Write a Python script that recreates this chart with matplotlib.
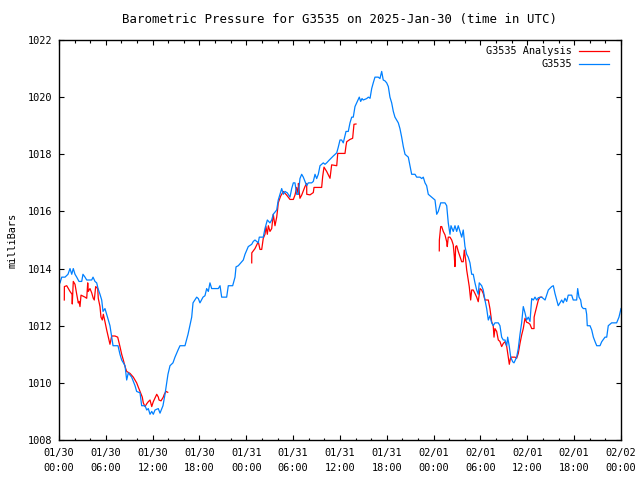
import numpy as np
import pandas as pd
import matplotlib
matplotlib.use('Agg')
import matplotlib.pyplot as plt
import matplotlib.dates as mdates

# hours after 2025-01-30 00:00 UTC, pressure in mb
obs_hours = [0.13, 0.35, 0.77, 1.15, 1.41, 1.63, 1.83, 2.05, 2.27, 2.56, 2.91, 3.07, 3.33, 3.55,
             4.19, 4.36, 4.61, 4.83, 5.0, 5.25, 5.47, 5.64, 5.89, 6.11, 6.32, 6.53, 6.75, 6.92,
             7.56, 7.81, 8.03, 8.46, 8.67, 8.88, 9.31, 9.74, 9.95, 10.38, 10.59, 11.02, 11.24,
             11.44, 11.66, 11.88, 12.08, 12.3, 12.72, 12.94, 13.32, 13.58, 13.8, 13.96, 14.22,
             14.6, 14.86, 15.25, 15.5, 16.14, 16.53, 17.0, 17.17, 17.64, 17.85, 18.06, 18.45,
             18.7, 18.92, 19.13, 19.34, 19.56, 20.41, 20.63, 20.84, 21.48, 21.69, 22.25, 22.55,
             22.68, 22.97, 23.61, 23.83, 24.25, 24.69, 24.89, 25.11, 25.33, 25.53, 25.66, 26.17,
             26.39, 26.69, 27.03, 27.25, 27.45, 27.89, 28.09, 28.53, 28.74, 28.95, 29.25, 29.59,
             29.81, 30.02, 30.23, 30.45, 30.66, 30.87, 31.09, 31.3, 31.73, 31.94, 32.37, 32.58,
             32.8, 33.01, 33.22, 33.44, 33.86, 34.08, 34.29, 34.63, 35.14, 35.58, 35.78, 36.0,
             36.21, 36.42, 36.77, 37.06, 37.28, 37.5, 37.7, 37.92, 38.14, 38.47, 38.65, 38.82,
             38.98, 39.42, 39.63, 39.85, 40.06, 40.26, 40.48, 40.9, 41.12, 41.34, 41.54, 41.76,
             41.98, 42.19, 42.4, 42.62, 42.83, 43.04, 43.47, 43.68, 43.9, 44.11, 44.33, 44.75,
             44.97, 45.18, 45.61, 45.82, 46.25, 46.47, 46.67, 46.89, 47.1, 47.31, 47.53, 48.17,
             48.39, 48.59, 48.9, 49.45, 49.67, 49.87, 50.09, 50.22, 50.51, 50.73, 50.95, 51.15,
             51.59, 51.79, 52.01, 52.23, 52.43, 52.65, 52.87, 53.07, 53.29, 53.51, 53.71, 53.84,
             54.15, 54.35, 54.57, 54.79, 55.0, 55.21, 55.43, 55.63, 55.85, 56.28, 56.49, 56.71,
             56.92, 57.14, 57.36, 57.48, 57.69, 57.87, 58.12, 58.29, 58.63, 58.84, 59.06, 59.27,
             59.48, 59.7, 59.91, 60.12, 60.34, 60.56, 60.77, 60.98, 61.2, 61.41, 61.84, 62.05,
             62.27, 62.48, 62.69, 63.12, 63.33, 63.54, 63.76, 63.96, 64.18, 64.4, 64.6, 64.82,
             65.04, 65.24, 65.68, 65.88, 66.32, 66.45, 66.62, 66.83, 66.96, 67.17, 67.48, 67.6,
             67.68, 68.03, 68.25, 68.46, 68.68, 68.89, 69.31, 69.53, 69.95, 70.17, 70.37, 70.8,
             71.44, 71.74, 72.0]
obs_mb = [1013.5, 1013.7, 1013.7, 1013.8, 1014.0, 1013.8, 1014.0, 1013.8, 1013.7, 1013.55, 1013.55,
          1013.8, 1013.7, 1013.6, 1013.6, 1013.7, 1013.55, 1013.5, 1013.3, 1013.1, 1012.9, 1012.5,
          1012.6, 1012.4, 1012.2, 1012.0, 1011.6, 1011.3, 1011.3, 1011.0, 1010.8, 1010.6, 1010.1,
          1010.35, 1010.2, 1009.9, 1009.7, 1009.65, 1009.2, 1009.2, 1009.05, 1009.1, 1008.9,
          1009.0, 1008.9, 1009.05, 1009.1, 1008.94, 1009.2, 1009.6, 1010.0, 1010.3, 1010.6,
          1010.7, 1010.9, 1011.15, 1011.3, 1011.3, 1011.7, 1012.3, 1012.8, 1013.0, 1012.95,
          1012.8, 1013.0, 1013.05, 1013.3, 1013.2, 1013.5, 1013.3, 1013.3, 1013.4, 1013.0,
          1013.0, 1013.4, 1013.4, 1013.7, 1014.06, 1014.1, 1014.3, 1014.5, 1014.77, 1014.85,
          1014.95, 1015.0, 1014.95, 1014.9, 1015.1, 1015.1, 1015.4, 1015.7, 1015.6, 1015.7,
          1015.9, 1016.05, 1016.4, 1016.8, 1016.6, 1016.7, 1016.65, 1016.5, 1016.8, 1017.0,
          1017.0, 1016.6, 1016.6, 1017.15, 1017.3, 1017.2, 1016.9, 1017.0, 1017.0, 1017.05,
          1017.3, 1017.15, 1017.3, 1017.6, 1017.7, 1017.65, 1017.7, 1017.8, 1017.94, 1018.05,
          1018.25, 1018.5, 1018.5, 1018.4, 1018.8, 1018.8, 1019.1, 1019.3, 1019.3, 1019.67,
          1019.8, 1020.0, 1019.85, 1019.95, 1019.9, 1019.95, 1020.0, 1019.96, 1020.3, 1020.5,
          1020.7, 1020.7, 1020.65, 1020.9, 1020.6, 1020.57, 1020.5, 1020.37, 1020.0, 1019.8,
          1019.5, 1019.3, 1019.1, 1018.9, 1018.6, 1018.27, 1018.0, 1017.9, 1017.6, 1017.3,
          1017.3, 1017.2, 1017.2, 1017.15, 1017.2, 1017.0, 1016.9, 1016.6, 1016.55, 1016.4,
          1015.9, 1016.0, 1016.3, 1016.3, 1016.2, 1015.6, 1015.2, 1015.5, 1015.3, 1015.5,
          1015.3, 1015.5, 1015.1, 1015.35, 1014.77, 1014.5, 1014.4, 1014.2, 1013.8, 1013.8,
          1013.5, 1013.25, 1013.1, 1013.5, 1013.4, 1013.25, 1012.9, 1012.6, 1012.2, 1012.35,
          1012.1, 1012.0, 1012.1, 1012.1, 1012.0, 1011.6, 1011.5, 1011.5, 1011.3, 1011.6,
          1011.27, 1010.9, 1010.74, 1010.7, 1010.9, 1011.2, 1011.7, 1012.1, 1012.67, 1012.45,
          1012.2, 1012.3, 1012.15, 1012.95, 1012.9, 1013.0, 1012.9, 1012.98, 1013.0, 1012.95,
          1012.9, 1013.07, 1013.25, 1013.37, 1013.4, 1013.13, 1012.9, 1012.7, 1012.8, 1012.9,
          1012.8, 1012.96, 1012.85, 1013.07, 1013.07, 1012.9, 1012.9, 1013.3, 1013.0, 1012.9,
          1012.67, 1012.6, 1012.6, 1012.4, 1012.0, 1012.0, 1011.85, 1011.6, 1011.44, 1011.3,
          1011.3, 1011.44, 1011.6, 1011.6, 1012.0, 1012.1, 1012.1, 1012.3, 1012.6]

# analysis runs (three separate pieces)
ana1_hours = [0.68, 0.69, 0.99, 1.41, 1.67, 1.7, 1.83, 2.05, 2.27, 2.47, 2.56, 2.69, 2.82, 3.33,
              3.55, 3.68, 3.75, 3.97, 4.19, 4.39, 4.52, 4.7, 4.96, 5.03, 5.25, 5.38, 5.55, 5.68,
              5.89, 6.11, 6.32, 6.53, 6.75, 7.17, 7.52, 7.81, 8.03, 8.24, 8.46, 8.67, 9.1, 9.52,
              9.95, 10.16, 10.38, 10.67, 10.8, 11.02, 11.24, 11.44, 11.66, 11.88, 12.08, 12.52,
              12.73, 12.81, 13.07, 13.36, 13.49, 13.71, 13.93]
ana1_mb = [1012.9, 1013.37, 1013.4, 1013.2, 1013.1, 1012.76, 1013.55, 1013.45, 1013.1, 1012.8,
           1012.85, 1012.67, 1013.07, 1013.0, 1012.96, 1013.5, 1013.2, 1013.3, 1013.15, 1012.96,
           1012.9, 1013.37, 1013.3, 1012.96, 1012.67, 1012.3, 1012.2, 1012.4, 1012.14, 1011.85,
           1011.6, 1011.35, 1011.64, 1011.64, 1011.6, 1011.27, 1011.0, 1010.8, 1010.57, 1010.4,
           1010.33, 1010.2, 1010.0, 1009.85, 1009.7, 1009.5, 1009.3, 1009.17, 1009.27, 1009.34,
           1009.4, 1009.17, 1009.34, 1009.6, 1009.5, 1009.4, 1009.37, 1009.5, 1009.6, 1009.7,
           1009.67]

ana2_hours = [24.69, 24.7, 25.11, 25.53, 25.75, 25.97, 26.17, 26.39, 26.51, 26.69, 26.82, 27.03,
              27.25, 27.45, 27.67, 27.89, 28.02, 28.09, 28.4, 28.74, 29.17, 29.59, 30.02, 30.23,
              30.45, 30.66, 30.67, 30.87, 31.09, 31.51, 31.73, 31.74, 32.16, 32.58, 32.67, 33.65,
              33.78, 33.95, 34.29, 34.72, 34.93, 35.58, 35.71, 36.64, 36.77, 36.86, 37.28, 37.62,
              37.79, 38.05]
ana2_mb = [1014.2, 1014.55, 1014.7, 1014.94, 1014.67, 1014.67, 1015.06, 1015.2, 1015.47, 1015.2,
           1015.5, 1015.3, 1015.4, 1015.9, 1015.5, 1015.8, 1016.1, 1016.3, 1016.54, 1016.7,
           1016.57, 1016.42, 1016.42, 1016.57, 1016.84, 1016.6, 1016.98, 1016.46, 1016.57,
           1016.87, 1016.98, 1016.6, 1016.58, 1016.66, 1016.84, 1016.84, 1017.22, 1017.55,
           1017.4, 1017.16, 1017.63, 1017.6, 1018.03, 1018.03, 1018.3, 1018.44, 1018.52,
           1018.56, 1019.05, 1019.06]

ana3_hours = [48.72, 48.73, 48.9, 49.03, 49.23, 49.45, 49.67, 49.74, 49.87, 50.09, 50.31, 50.51,
              50.64, 50.73, 50.82, 50.95, 51.15, 51.37, 51.59, 51.79, 51.92, 52.1, 52.23, 52.43,
              52.56, 52.74, 52.87, 53.07, 53.29, 53.51, 53.71, 53.94, 54.15, 54.35, 54.57, 55.0,
              55.21, 55.43, 55.63, 55.73, 55.85, 56.07, 56.28, 56.49, 56.71, 56.92, 57.14, 57.36,
              57.56, 57.69, 57.87, 58.42, 58.63, 58.84, 59.06, 59.27, 59.48, 59.7, 59.91, 60.12,
              60.34, 60.56, 60.86, 60.87, 60.98, 61.2, 61.41, 61.62, 61.84]
ana3_mb = [1014.62, 1015.0, 1015.47, 1015.47, 1015.3, 1015.18, 1014.94, 1014.77, 1015.1, 1015.1,
           1015.0, 1014.83, 1014.44, 1014.07, 1014.77, 1014.8, 1014.6, 1014.42, 1014.24, 1014.24,
           1014.65, 1014.3, 1013.95, 1013.6, 1013.37, 1012.9, 1013.25, 1013.25, 1013.13, 1013.0,
           1012.84, 1013.3, 1013.25, 1013.13, 1012.9, 1012.9, 1012.6, 1012.14, 1012.0, 1011.6,
           1011.9, 1011.8, 1011.5, 1011.45, 1011.27, 1011.38, 1011.44, 1011.27, 1010.9, 1010.65,
           1010.9, 1010.9, 1010.86, 1011.03, 1011.38, 1011.67, 1011.9, 1012.26, 1012.12, 1012.1,
           1012.05, 1011.9, 1011.9, 1012.3, 1012.43, 1012.67, 1012.9, 1013.0, 1013.0]

start = pd.Timestamp('2025-01-30 00:00')


def to_time(hours):
    return start + pd.to_timedelta(np.array(hours), unit='h')


plt.rcParams['font.family'] = 'DejaVu Sans Mono'
plt.rcParams['font.size'] = 7.4

fig = plt.figure(figsize=(6.4, 4.8), dpi=100)
ax = fig.add_axes([59 / 640, 40 / 480, 562 / 640, 400 / 480])

red = '#ff0000'
blue = '#0080ff'
ax.plot(to_time(ana1_hours), ana1_mb, color=red, lw=0.9, label='G3535 Analysis')
ax.plot(to_time(ana2_hours), ana2_mb, color=red, lw=0.9)
ax.plot(to_time(ana3_hours), ana3_mb, color=red, lw=0.9)
ax.plot(to_time(obs_hours), obs_mb, color=blue, lw=0.9, label='G3535')

ax.set_xlim(start, start + pd.Timedelta(hours=72))
ax.set_ylim(1008, 1022)
ax.set_yticks(np.arange(1008, 1023, 2))
ax.xaxis.set_major_locator(mdates.HourLocator(byhour=range(0, 24, 6)))
ax.xaxis.set_minor_locator(mdates.HourLocator(byhour=range(0, 24, 2)))
ax.xaxis.set_major_formatter(mdates.DateFormatter('%m/%d\n%H:%M'))
for lbl in ax.get_xticklabels():
    lbl.set_linespacing(1.6)

ax.tick_params(which='both', direction='in', top=True, right=True, color='black')
ax.tick_params(which='major', length=3.6, width=0.8, pad=5)
ax.tick_params(axis='x', which='major', pad=6)
ax.tick_params(which='minor', length=1.8, width=0.8)
for s in ax.spines.values():
    s.set_linewidth(1)
    s.set_color('black')

ax.set_title('Barometric Pressure for G3535 on 2025-Jan-30 (time in UTC)', pad=12)
ax.set_ylabel('milliBars', labelpad=7)

ax.legend(loc='upper right', bbox_to_anchor=(0.989, 1.0), frameon=False, markerfirst=False,
          handlelength=2.9, handletextpad=0.7, borderaxespad=0.2, labelspacing=0.3)

fig.savefig('out.png', dpi=100)
